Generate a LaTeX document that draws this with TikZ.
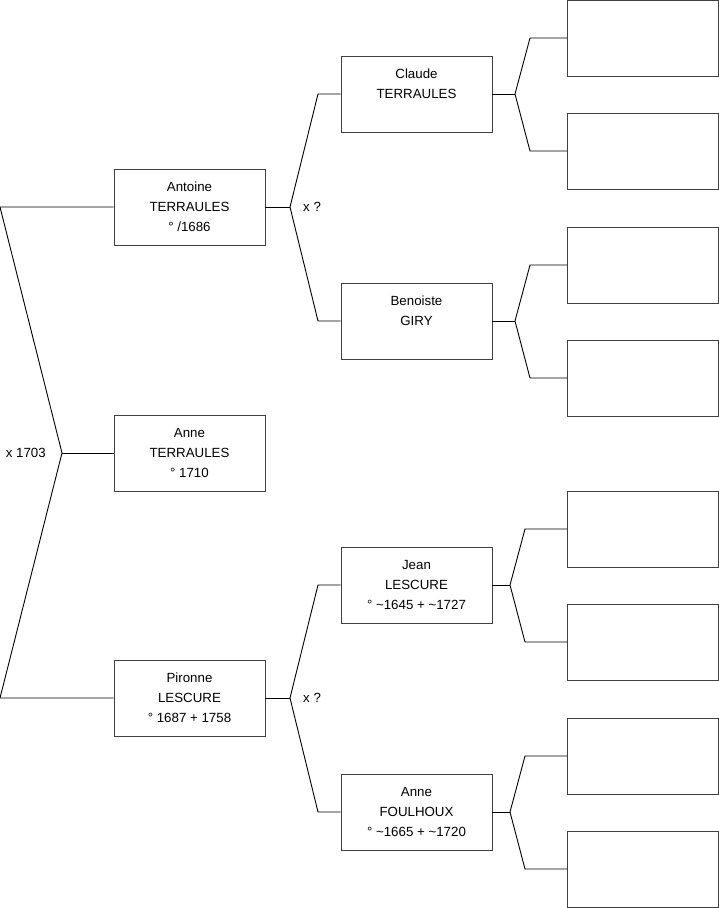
\documentclass[tikz,border=0pt]{standalone}
\usepackage{fontspec}
\setmainfont{Liberation Sans}
\usetikzlibrary{positioning}
\tikzset{
  person/.style={draw=black!75, line width=0.9pt, fill=white, align=center, minimum width=151pt, minimum height=76pt, inner sep=0pt, font=\fontsize{13.3}{20}\selectfont},
  blank/.style={person},
  link/.style={draw=black, line width=0.9pt},
  lbl/.style={font=\fontsize{13.3}{15}\selectfont, inner sep=1pt}
}

\begin{document}
\begin{tikzpicture}[x=1pt, y=-1pt]
  \useasboundingbox (0,0) rectangle (719,908);
  % child and parents
  \node[person] (antoine) at (189.5,207) {Antoine\\TERRAULES\\° /1686};
  \node[person] (anneT) at (189.5,453) {Anne\\TERRAULES\\° 1710};
  \node[person] (pironne) at (189.5,698) {Pironne\\LESCURE\\° 1687 + 1758};
  % grandparents
  \node[person] (claude) at (416.5,94) {Claude\\TERRAULES\\~};
  \node[person] (benoiste) at (416.5,321) {Benoiste\\GIRY\\~};
  \node[person] (jean) at (416.5,585) {Jean\\LESCURE\\° \textasciitilde1645 + \textasciitilde1727};
  \node[person] (anneF) at (416.5,812) {Anne\\FOULHOUX\\° \textasciitilde1665 + \textasciitilde1720};
  % empty boxes
  \foreach \y [count=\i] in {38,151,265,378,529,642,756,869}
    \node[blank] (b\i) at (643,\y) {};

  % marriage of the parents
  \coordinate (m0) at (62,453);
  \coordinate (m0a) at (0,207);
  \coordinate (m0b) at (0,698);
  \draw[link] (antoine.west) -- (m0a) -- (m0) -- (m0b) -- (pironne.west);
  \draw[link] (m0) -- (anneT.west);
  \node[lbl, left=15pt of m0] (x0) {x 1703};

  % grandparents forks
  \coordinate (m1) at (290,207);
  \coordinate (m1a) at (318,94);
  \coordinate (m1b) at (318,321);
  \draw[link] (claude.west) -- (m1a) -- (m1) -- (m1b) -- (benoiste.west);
  \draw[link] (antoine.east) -- (m1);
  \node[lbl, right=12pt of m1] (x1) {x ?};

  \coordinate (m2) at (290,698);
  \coordinate (m2a) at (318,585);
  \coordinate (m2b) at (318,812);
  \draw[link] (jean.west) -- (m2a) -- (m2) -- (m2b) -- (anneF.west);
  \draw[link] (pironne.east) -- (m2);
  \node[lbl, right=12pt of m2] (x2) {x ?};

  % great-grandparents forks
  \foreach \p/\a/\b/\xv/\xk in {claude/1/2/515/530, benoiste/3/4/515/530,
                               jean/5/6/510/525, anneF/7/8/510/525} {
    \coordinate (v-\p) at (\p.east -| \xv,0);
    \draw[link] (\p.east) -- (v-\p);
    \draw[link] (b\a.west) -- (b\a.west -| \xk,0) -- (v-\p) -- (b\b.west -| \xk,0) -- (b\b.west);
  }
\end{tikzpicture}
\end{document}
